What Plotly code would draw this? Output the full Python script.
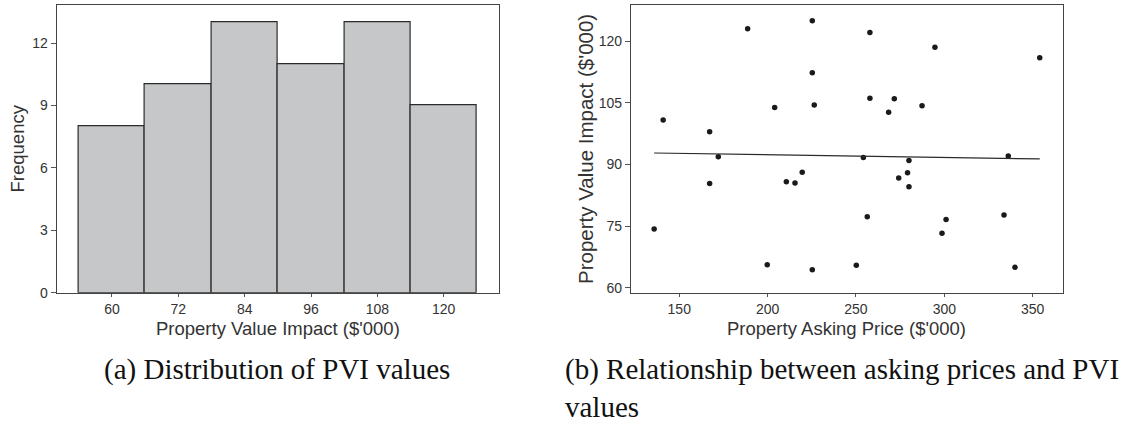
import plotly.graph_objects as go

# ---------------- data ----------------
pvi_bin_centers = [60, 72, 84, 96, 108, 120]
pvi_bin_counts = [8, 10, 13, 11, 13, 9]
pvi_bin_width = 12

asking_price = [135.8, 140.9, 167.2, 167.2, 172.1, 188.7, 199.8, 204.0, 210.6, 215.5,
                219.6, 225.3, 225.3, 226.4, 225.3, 250.2, 254.2, 256.4, 257.9, 257.9,
                268.5, 271.7, 274.2, 279.2, 280.0, 280.0, 287.4, 294.7, 298.7, 301.0,
                333.8, 336.2, 340.0, 354.0]
pvi_value = [74.3, 100.8, 98.0, 85.4, 91.9, 123.0, 65.6, 103.9, 85.8, 85.5,
             88.1, 125.0, 112.3, 104.5, 64.4, 65.5, 91.7, 77.3, 122.1, 106.1,
             102.7, 106.0, 86.7, 88.0, 91.0, 84.6, 104.3, 118.5, 73.3, 76.6,
             77.7, 92.1, 65.0, 116.0]

# fitted-line values (at the ends of the data range)
fit_line_price = [135.8, 354.0]
fit_line_pvi = [92.8, 91.35]

hist_xticks = [60, 72, 84, 96, 108, 120]
hist_yticks = [0, 3, 6, 9, 12]
sc_xticks = [150, 200, 250, 300, 350]
sc_yticks = [60, 75, 90, 105, 120]

captions = ["(a) Distribution of PVI values",
            "(b) Relationship between asking prices and PVI<br>values"]

# ---------------- figure ----------------
W, H = 1125, 430
fig = go.Figure()

fig.add_trace(go.Bar(
    x=pvi_bin_centers, y=pvi_bin_counts, width=pvi_bin_width,
    marker=dict(color="#c6c7c9", line=dict(color="#2b2b2b", width=1.2)),
    xaxis="x", yaxis="y", showlegend=False, hoverinfo="x+y"))

fig.add_trace(go.Scatter(
    x=asking_price, y=pvi_value, mode="markers",
    marker=dict(color="#1a1a1a", size=5.5),
    xaxis="x2", yaxis="y2", showlegend=False))

fig.add_trace(go.Scatter(
    x=fit_line_price, y=fit_line_pvi, mode="lines",
    line=dict(color="#2a2a2a", width=1.2),
    xaxis="x2", yaxis="y2", showlegend=False, hoverinfo="skip"))

tickfont = dict(family="Liberation Sans, Arial", size=14, color="#333333")
axis_common = dict(showline=True, mirror=True, linecolor="#444444", linewidth=1.3,
                   showgrid=False, zeroline=False, ticks="outside", tickcolor="#555555",
                   tickwidth=1, tickfont=tickfont)

ytop, ybot = 5.3, 298.3
ydom = [1 - ybot / H, 1 - ytop / H]

fig.update_layout(
    width=W, height=H,
    margin=dict(l=0, r=0, t=0, b=0),
    paper_bgcolor="white", plot_bgcolor="white",
    bargap=0,
    xaxis=dict(domain=[56.7 / W, 499 / W], range=[50, 130], tickvals=hist_xticks,
               ticklen=3, anchor="y", **axis_common),
    yaxis=dict(domain=ydom, range=[0, 13.82], tickvals=hist_yticks,
               ticklen=5, anchor="x", **axis_common),
    xaxis2=dict(domain=[631 / W, 1062.7 / W], range=[122.7, 367], tickvals=sc_xticks,
                ticklen=3, anchor="y2", **axis_common),
    yaxis2=dict(domain=ydom, range=[58.8, 128.76], tickvals=sc_yticks,
                ticklen=5, anchor="x2", **axis_common),
)

title_font_h = dict(family="Liberation Sans, Arial", size=18.5, color="#333333")
ann = []
ann.append(dict(text="Property Value Impact ($'000)", x=277.9 / W, y=1 - 335 / H,
                xref="paper", yref="paper", showarrow=False, font=title_font_h,
                xanchor="center", yanchor="middle"))
ann.append(dict(text="Property Asking Price ($'000)", x=846.9 / W, y=1 - 335 / H,
                xref="paper", yref="paper", showarrow=False, font=title_font_h,
                xanchor="center", yanchor="middle"))
ann.append(dict(text="Frequency", x=17.5 / W, y=1 - 151.8 / H, textangle=-90,
                xref="paper", yref="paper", showarrow=False,
                font=dict(family="Liberation Sans, Arial", size=18.5, color="#333333"),
                xanchor="center", yanchor="middle"))
ann.append(dict(text="Property Value Impact ($'000)", x=586 / W, y=1 - 151.8 / H, textangle=-90,
                xref="paper", yref="paper", showarrow=False,
                font=dict(family="Liberation Sans, Arial", size=20.5, color="#333333"),
                xanchor="center", yanchor="middle"))

cap_font = dict(family="Liberation Serif, Times New Roman, serif", size=29, color="#111111")
ann.append(dict(text=captions[0], x=101.7 / W, y=1 - 358 / H,
                xref="paper", yref="paper", showarrow=False, font=cap_font,
                xanchor="left", yanchor="top", align="left"))
ann.append(dict(text=captions[1], x=563 / W, y=1 - 358 / H,
                xref="paper", yref="paper", showarrow=False, font=cap_font,
                xanchor="left", yanchor="top", align="left"))
fig.update_layout(annotations=ann)

fig.write_html("out.html")
